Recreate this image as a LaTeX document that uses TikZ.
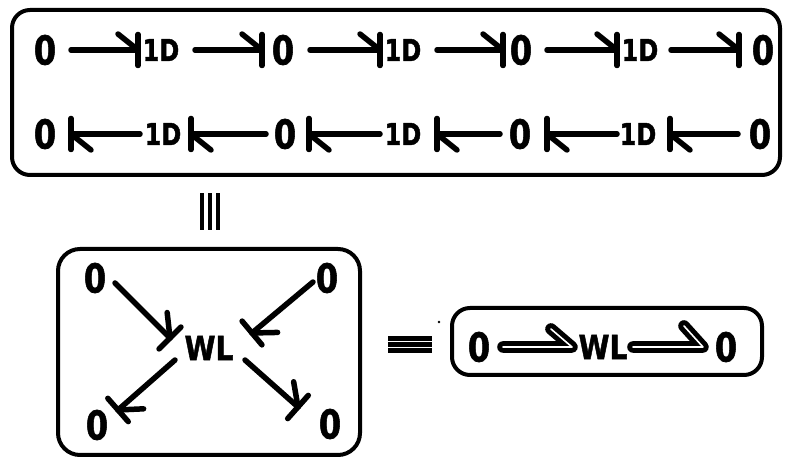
\documentclass[tikz,border=0pt]{standalone}
\usepackage{graphicx}
\usepackage{fontspec}
\setmainfont{DejaVu Sans}
\newfontfamily\hvfont[FakeBold=1.6]{DejaVu Sans}
\usetikzlibrary{decorations.markings}
\newcommand\zfont{\fontsize{40}{40}\selectfont\hvfont\bfseries}
\newcommand\idfont{\fontsize{30}{30}\selectfont\hvfont\bfseries}
\newcommand\wlfont{\fontsize{33}{33}\selectfont\hvfont\bfseries}
\newcommand\txZ{\scalebox{0.8}[1]{\zfont 0}}
\newcommand\txID{\scalebox{0.8}[1]{\idfont 1D}}
\newcommand\txWL{\scalebox{0.85}[1]{\wlfont WL}}
\tikzset{
  lbl/.style={inner sep=0pt, text=black},
  framebox/.style={line width=4pt, rounded corners=18pt},
  harp/.style={line width=5.5pt, line cap=round,
    postaction={decorate, decoration={markings,
      mark=at position 1 with {
        \draw[line width=5.5pt, line cap=round] (0pt,-15.5pt) -- (0pt,15.5pt);
        \draw[line width=5.5pt, line cap=round] (-20pt,16pt) -- (0pt,0pt);
      }}}},
  dbl/.style={double, double distance=1.6pt, line width=5pt, line cap=round, line join=round},
  eqline/.style={line width=4.5pt},
}
\begin{document}
\begin{tikzpicture}[x=1pt,y=1pt]
\useasboundingbox (0,0) rectangle (787,460);
\fill[white] (0,0) rectangle (787,460);

% top box
\draw[framebox] (12,285) rectangle (780,450);
\node[lbl] (a1) at (45,410) {\txZ};
\node[lbl] (a2) at (161,410) {\txID};
\node[lbl] (a3) at (283,410) {\txZ};
\node[lbl] (a4) at (403,410) {\txID};
\node[lbl] (a5) at (521,410) {\txZ};
\node[lbl] (a6) at (640,410) {\txID};
\node[lbl] (a7) at (763,410) {\txZ};
\draw[harp] ([xshift=26pt]a1.center) -- ([xshift=-23pt]a2.center);
\draw[harp] ([xshift=34pt]a2.center) -- ([xshift=-21pt]a3.center);
\draw[harp] ([xshift=27pt]a3.center) -- ([xshift=-23pt]a4.center);
\draw[harp] ([xshift=34pt]a4.center) -- ([xshift=-18pt]a5.center);
\draw[harp] ([xshift=26pt]a5.center) -- ([xshift=-23pt]a6.center);
\draw[harp] ([xshift=31pt]a6.center) -- ([xshift=-24pt]a7.center);

\node[lbl] (b1) at (45,326) {\txZ};
\node[lbl] (b2) at (163,326) {\txID};
\node[lbl] (b3) at (285,326) {\txZ};
\node[lbl] (b4) at (403,326) {\txID};
\node[lbl] (b5) at (520,326) {\txZ};
\node[lbl] (b6) at (638,326) {\txID};
\node[lbl] (b7) at (760,326) {\txZ};
\draw[harp] ([xshift=-23pt]b2.center) -- ([xshift=26pt]b1.center);
\draw[harp] ([xshift=-19pt]b3.center) -- ([xshift=28pt]b2.center);
\draw[harp] ([xshift=-23pt]b4.center) -- ([xshift=24pt]b3.center);
\draw[harp] ([xshift=-20pt]b5.center) -- ([xshift=34pt]b4.center);
\draw[harp] ([xshift=-21pt]b6.center) -- ([xshift=27pt]b5.center);
\draw[harp] ([xshift=-22pt]b7.center) -- ([xshift=32pt]b6.center);

% identity bars
\draw[eqline] (202,230) -- (202,267);
\draw[eqline] (210,230) -- (210,267);
\draw[eqline] (218,230) -- (218,267);

% bottom-left box
\draw[framebox, rounded corners=22pt] (58,5) rectangle (360,211);
\node[lbl] (tl) at (95,182) {\txZ};
\node[lbl] (tr) at (327,182) {\txZ};
\node[lbl] (bl) at (97,35) {\txZ};
\node[lbl] (br) at (330,36) {\txZ};
\node[lbl] (wl) at (209,112) {\txWL};
\draw[harp] ([shift={(20pt,-5pt)}]tl.center) -- ([shift={(-39pt,10pt)}]wl.center);
\draw[harp] ([shift={(-14pt,-4pt)}]tr.center) -- ([shift={(43pt,15pt)}]wl.center);
\draw[harp] ([shift={(-34pt,-12pt)}]wl.center) -- ([shift={(21pt,15pt)}]bl.center);
\draw[harp] ([shift={(36pt,-12pt)}]wl.center) -- ([shift={(-32pt,17pt)}]br.center);

% equivalence sign
\draw[eqline] (388,121.5) -- (432,121.5);
\draw[eqline] (388,115.5) -- (432,115.5);
\draw[eqline] (388,109.5) -- (432,109.5);
\fill (439,138) circle (1.3pt);

% right box
\draw[framebox] (452,85) rectangle (762,152);
\node[lbl] (r1) at (479,113) {\txZ};
\node[lbl] (rw) at (603,113) {\txWL};
\node[lbl] (r2) at (726,113) {\txZ};
\draw[dbl] ([xshift=24pt]r1.center) -- ([xshift=-31pt]rw.center) -- ++(-21pt,18pt);
\draw[dbl] ([xshift=30pt]rw.center) -- ([xshift=-23pt]r2.center) -- ++(-19pt,21pt);
\end{tikzpicture}
\end{document}
